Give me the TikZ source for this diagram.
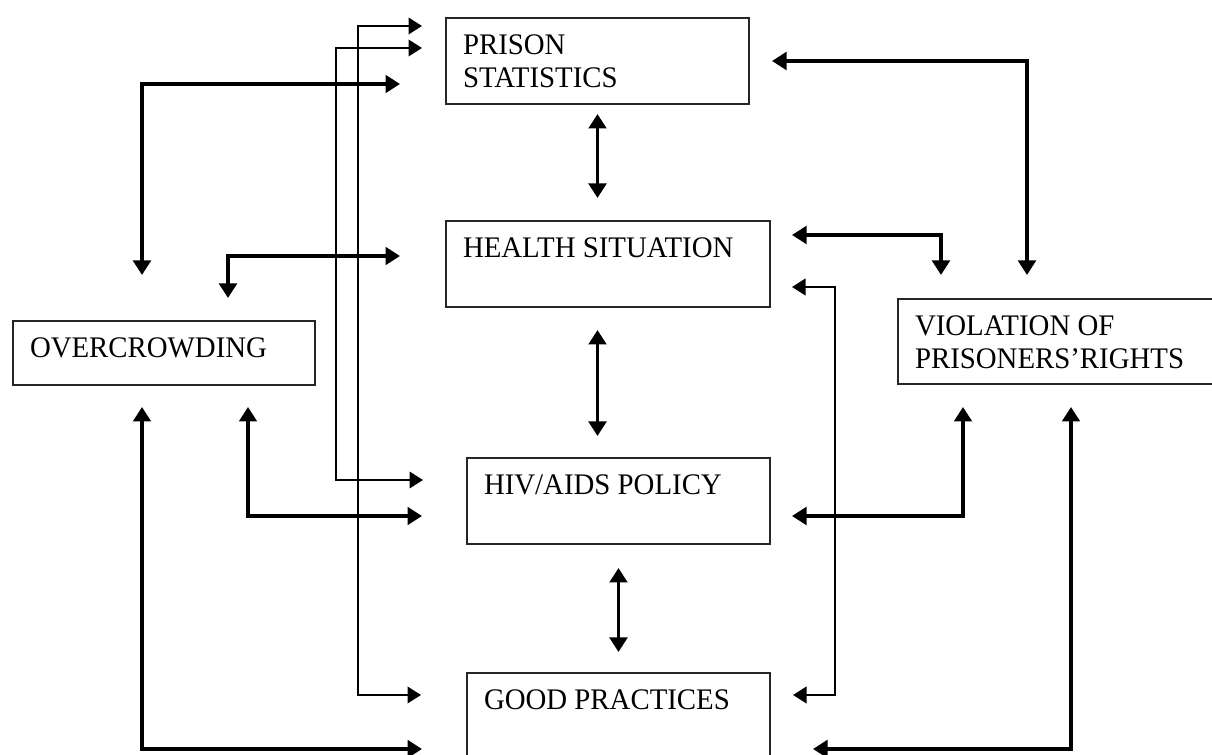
\documentclass[tikz,border=0pt]{standalone}
\usepackage{fontspec}
\setmainfont{Liberation Serif}[FakeStretch=0.965]
\usetikzlibrary{arrows.meta}
\newdimen\pxu \pxu=0.2mm
\newcommand{\boxtxt}[3]{\parbox[c][#2\pxu][t]{#1\pxu}{\raggedright #3}}

\begin{document}
\begin{tikzpicture}[x=0.2mm, y=-0.2mm,
    box/.style={draw=black!85, line width=0.4mm, anchor=north west, inner xsep=3.4mm, inner ysep=3.3mm, font=\fontsize{17}{18.8}\selectfont},
    thk/.style={{Triangle[length=2.9mm,width=3.5mm]}-{Triangle[length=2.9mm,width=3.5mm]}, line width=0.7mm},
    thn/.style={{Triangle[length=2.7mm,width=3.3mm]}-{Triangle[length=2.7mm,width=3.3mm]}, line width=0.45mm}
]
\useasboundingbox (0,0) rectangle (1212,755);

\node[box] (stats) at (445,17) {\boxtxt{269}{53}{PRISON\\STATISTICS}};
\node[box] (health) at (445,220) {\boxtxt{290}{53}{HEALTH SITUATION}};
\node[box] (crowd) at (12,320) {\boxtxt{268}{31}{OVERCROWDING}};
\node[box] (rights) at (897,298) {\boxtxt{286}{52}{VIOLATION OF\\PRISONERS'RIGHTS}};
\node[box] (hiv) at (466,457) {\boxtxt{269}{53}{HIV/AIDS POLICY}};
\node[box] (good) at (466,672) {\boxtxt{269}{67}{GOOD PRACTICES}};

\draw[thk, shorten <=1.8mm, shorten >=4.4mm] (stats.south) -- (stats.south |- health.north);
\draw[thk, shorten <=4.4mm, shorten >=4.2mm] (stats.south |- health.south) -- (stats.south |- hiv.north);
\draw[thk, shorten <=4.6mm, shorten >=4mm] (hiv.south) -- (hiv.south |- good.north);

\draw[thk, shorten <=9mm, shorten >=9mm] ([xshift=26mm]crowd.north west) |- ([yshift=-4.6mm]stats.west);
\draw[thk, shorten <=4.4mm, shorten >=9mm] ([xshift=43.2mm]crowd.north west) |- ([yshift=1.6mm]health.west);
\draw[thk, shorten <=8.8mm, shorten >=4.2mm] ([yshift=-3mm]hiv.west) -| ([xshift=47.2mm]crowd.south west);
\draw[thk, shorten <=8.8mm, shorten >=4.2mm] ([yshift=-15.4mm]good.north west) -| ([xshift=26mm]crowd.south west);

\draw[thn, shorten <=4.6mm, shorten >=8.6mm] ([yshift=2.6mm]stats.west) -- ++(-21.8mm,0) |- ([yshift=4.2mm]hiv.west);
\draw[thn, shorten <=4.6mm, shorten >=9mm] ([yshift=7mm]stats.west) -- ++(-17.4mm,0) |- ([yshift=-4.6mm]good.north west);

\draw[thk, shorten <=4.4mm, shorten >=4.6mm] (stats.east) -| ([xshift=26mm]rights.north west);
\draw[thk, shorten <=4.2mm, shorten >=4.6mm] ([yshift=5.8mm]health.east) -| ([xshift=8.8mm]rights.north west);
\draw[thn, shorten <=4.2mm, shorten >=4.4mm] ([yshift=-4.6mm]health.east) -- ++(12.8mm,0) |- ([yshift=-4.6mm]good.north east);
\draw[thk, shorten <=4.2mm, shorten >=4.4mm] ([yshift=-3mm]hiv.east) -| ([xshift=13.2mm]rights.south west);
\draw[thk, shorten <=8.4mm, shorten >=4.4mm] ([yshift=-15.4mm]good.north east) -| ([xshift=34.8mm]rights.south west);
\end{tikzpicture}
\end{document}
